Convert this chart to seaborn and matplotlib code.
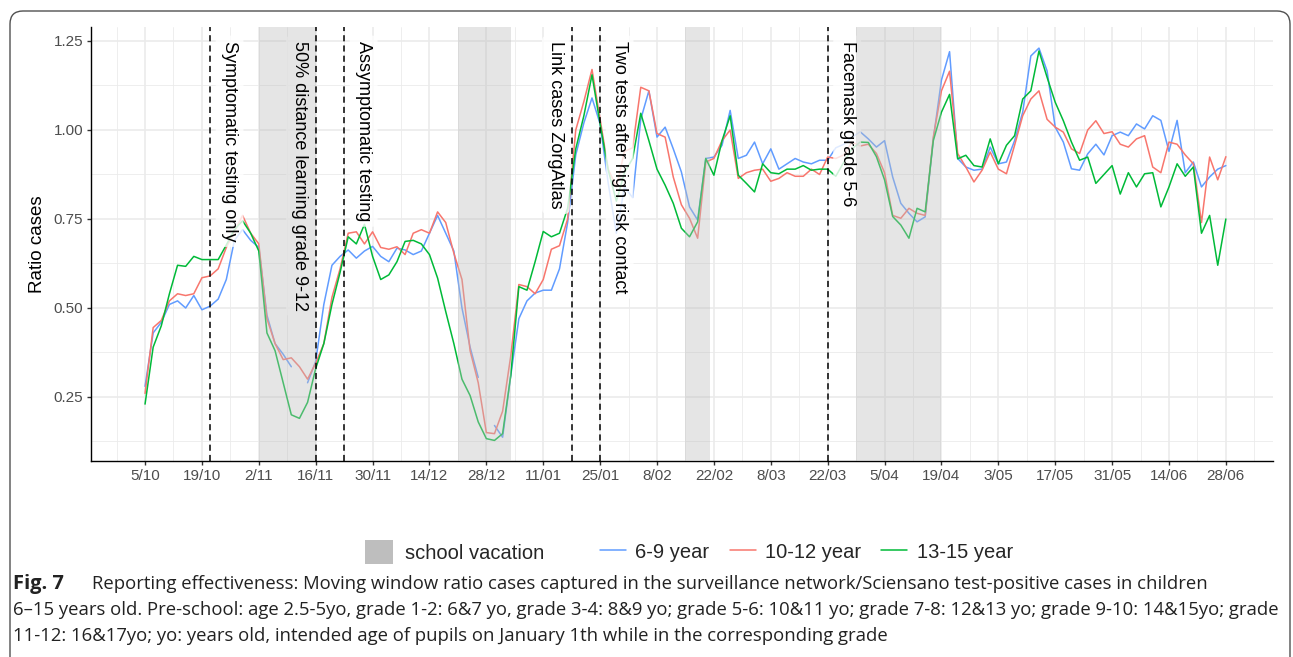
import numpy as np
import pandas as pd
import seaborn as sns
import matplotlib.pyplot as plt
import matplotlib.dates as mdates
from matplotlib.ticker import FixedLocator
from matplotlib.patches import Patch, FancyBboxPatch
from matplotlib.lines import Line2D

# moving window ratio, read every 2 days from 5/10/2020
start = pd.Timestamp('2020-10-05')
dates = pd.date_range(start, periods=134, freq='2D')
nan = np.nan

ratio_6_9 = [0.28, 0.43, 0.46, 0.51, 0.52, 0.50, 0.535, 0.495, 0.505, 0.525,
             0.58, 0.69, 0.72, 0.69, 0.67, 0.48, 0.40, 0.37, 0.335, nan,
             0.29, 0.35, 0.51, 0.62, 0.645, 0.663, 0.64, 0.66, 0.673, 0.645,
             0.63, 0.668, 0.663, 0.65, 0.66, 0.71, 0.76, 0.71, 0.66, 0.50,
             0.39, 0.305, nan, 0.17, 0.137, 0.31, 0.47, 0.52, 0.542, 0.55,
             0.55, 0.61, 0.74, 0.93, 1.02, 1.09, 1.017, 0.85, 0.71, 0.84,
             0.81, 1.03, 1.11, 0.98, 1.008, 0.947, 0.882, 0.784, 0.747, 0.92,
             0.924, 0.957, 1.055, 0.92, 0.929, 0.966, 0.905, 0.947, 0.89, 0.905,
             0.92, 0.91, 0.905, 0.915, 0.915, 0.95, 0.96, 0.98, 0.995, 0.975,
             0.952, 0.97, 0.868, 0.794, 0.766, 0.742, 0.756, 0.975, 1.14, 1.22,
             0.92, 0.896, 0.887, 0.89, 0.952, 0.905, 0.91, 0.97, 1.05, 1.208,
             1.23, 1.166, 1.008, 0.966, 0.891, 0.887, 0.933, 0.96, 0.93, 0.984,
             0.994, 0.984, 1.017, 1.003, 1.04, 1.027, 0.94, 1.027, 0.88, 0.91,
             0.84, 0.868, 0.89, 0.90]

ratio_10_12 = [0.26, 0.445, 0.465, 0.52, 0.54, 0.535, 0.54, 0.585, 0.59, 0.61,
               0.67, 0.715, 0.76, 0.71, 0.68, 0.47, 0.40, 0.355, 0.36, 0.335,
               0.30, 0.345, 0.40, 0.53, 0.61, 0.71, 0.714, 0.68, 0.714, 0.67,
               0.665, 0.672, 0.65, 0.71, 0.72, 0.71, 0.77, 0.74, 0.654, 0.58,
               0.38, 0.29, 0.15, 0.147, 0.21, 0.365, 0.566, 0.56, 0.54, 0.58,
               0.665, 0.675, 0.75, 1.00, 1.08, 1.17, 1.03, 0.89, 0.84, 0.94,
               0.95, 1.12, 1.11, 0.99, 0.98, 0.868, 0.79, 0.752, 0.696, 0.91,
               0.92, 0.97, 1.00, 0.864, 0.88, 0.887, 0.89, 0.856, 0.864, 0.88,
               0.87, 0.87, 0.89, 0.875, 0.924, 0.92, 0.93, 0.966, 0.955, 0.96,
               0.934, 0.88, 0.76, 0.752, 0.78, 0.766, 0.76, 0.98, 1.11, 1.165,
               0.934, 0.896, 0.854, 0.887, 0.938, 0.89, 0.877, 0.957, 1.04, 1.087,
               1.11, 1.03, 1.008, 0.994, 0.947, 0.934, 1.0, 1.026, 0.99, 0.995,
               0.96, 0.952, 0.975, 0.984, 0.896, 0.88, 0.966, 0.96, 0.93, 0.905,
               0.74, 0.924, 0.86, 0.925]

ratio_13_15 = [0.23, 0.39, 0.45, 0.54, 0.62, 0.617, 0.645, 0.636, 0.636, 0.636,
               0.677, 0.72, 0.745, 0.71, 0.66, 0.43, 0.38, 0.29, 0.20, 0.19,
               0.235, 0.33, 0.40, 0.51, 0.60, 0.70, 0.68, 0.735, 0.645, 0.58,
               0.593, 0.63, 0.687, 0.69, 0.68, 0.65, 0.584, 0.49, 0.40, 0.30,
               0.254, 0.18, 0.133, 0.128, 0.147, 0.31, 0.56, 0.55, 0.63, 0.715,
               0.70, 0.71, 0.78, 0.947, 1.04, 1.155, 1.017, 0.887, 0.80, 0.88,
               0.92, 1.047, 0.97, 0.89, 0.845, 0.794, 0.724, 0.70, 0.742, 0.92,
               0.873, 0.97, 1.04, 0.873, 0.85, 0.826, 0.905, 0.88, 0.877, 0.89,
               0.89, 0.90, 0.887, 0.89, 0.89, 0.87, 0.91, 0.947, 0.966, 0.965,
               0.925, 0.86, 0.757, 0.733, 0.696, 0.78, 0.77, 0.97, 1.05, 1.10,
               0.919, 0.929, 0.90, 0.896, 0.975, 0.905, 0.957, 0.984, 1.087, 1.11,
               1.222, 1.148, 1.078, 1.026, 0.966, 0.915, 0.924, 0.85, 0.875, 0.9,
               0.82, 0.88, 0.84, 0.877, 0.88, 0.784, 0.84, 0.905, 0.87, 0.896,
               0.71, 0.76, 0.62, 0.75]

groups = ['6-9 year', '10-12 year', '13-15 year']
colors = ['#619CFF', '#F8766D', '#00BA38']

vacation_start = ['2020-11-02', '2020-12-21', '2021-02-15', '2021-03-29']
vacation_end = ['2020-11-16', '2021-01-03', '2021-02-21', '2021-04-19']

event_dates = ['2020-10-21', '2020-11-16', '2020-11-23', '2021-01-18', '2021-01-25', '2021-03-22']
event_labels = ['Symptomatic testing only', '50% distance learning grade 9-12',
                'Assymptomatic testing', 'Link cases ZorgAtlas',
                'Two tests after high risk contact', 'Facemask grade 5-6']
event_side = [1, -1, 1, -1, 1, 1]

tick_dates = pd.date_range('2020-10-05', '2021-06-28', freq='14D')
tick_labels = ['5/10', '19/10', '2/11', '16/11', '30/11', '14/12', '28/12', '11/01',
               '25/01', '8/02', '22/02', '8/03', '22/03', '5/04', '19/04', '3/05',
               '17/05', '31/05', '14/06', '28/06']

caption_1 = 'Reporting effectiveness: Moving window ratio cases captured in the surveillance network/Sciensano test-positive cases in children'
caption_2 = '6\u201315 years old. Pre-school: age 2.5-5yo, grade 1-2: 6&7 yo, grade 3-4: 8&9 yo; grade 5-6: 10&11 yo; grade 7-8: 12&13 yo; grade 9-10: 14&15yo; grade'
caption_3 = '11-12: 16&17yo; yo: years old, intended age of pupils on January 1th while in the corresponding grade'

# long table, one unit per unbroken stretch so gaps stay gaps
frames = []
for name, vals in zip(groups, [ratio_6_9, ratio_10_12, ratio_13_15]):
    v = np.array(vals, dtype=float)
    seg = np.cumsum(np.isnan(v))
    frames.append(pd.DataFrame({'date': dates, 'ratio': v, 'group': name, 'seg': seg}))
df = pd.concat(frames).dropna()
df['unit'] = df['group'] + '_' + df['seg'].astype(str)

sns.set_theme(style='white')
plt.rcParams['font.family'] = ['Liberation Sans', 'DejaVu Sans']

W, H = 1293, 657
fig = plt.figure(figsize=(W / 100, H / 100), dpi=100)
ax = fig.add_axes([91 / W, 1 - 461 / H, (1273 - 91) / W, (461 - 27) / H])

sns.lineplot(data=df, x='date', y='ratio', hue='group', units='unit', estimator=None,
             hue_order=groups, palette=dict(zip(groups, colors)), lw=1.1,
             legend=False, ax=ax, zorder=2)

for s, e in zip(vacation_start, vacation_end):
    ax.axvspan(mdates.date2num(pd.Timestamp(s)), mdates.date2num(pd.Timestamp(e)),
               color='#BEBEBE', alpha=0.4, lw=0, zorder=3)

for d, lab, side in zip(event_dates, event_labels, event_side):
    xd = mdates.date2num(pd.Timestamp(d))
    ax.axvline(xd, color='black', ls=(0, (4, 2.7)), lw=1.1, zorder=4)
    off = 4.8 if side > 0 else -3.9
    # label box sits under the vacation shading, text on top of everything
    ax.text(xd + off, 1.25, lab, rotation=-90, ha='center', va='top', fontsize=13,
            color='none', zorder=2.5,
            bbox=dict(boxstyle='round,pad=0.3', fc='white', ec='none', alpha=0.8))
    ax.text(xd + off, 1.25, lab, rotation=-90, ha='center', va='top', fontsize=13,
            color='black', zorder=5)

x0 = mdates.date2num(start)
ax.set_xlim(x0 - 13.3, x0 + 277.6)
ax.set_ylim(0.0702, 1.2893)

ax.set_xticks(mdates.date2num(tick_dates))
ax.set_xticklabels(tick_labels)
ax.xaxis.set_minor_locator(FixedLocator(mdates.date2num(pd.date_range('2020-09-28', '2021-07-05', freq='14D'))))
ax.set_yticks([0.25, 0.5, 0.75, 1.0, 1.25])
ax.set_yticklabels(['0.25', '0.50', '0.75', '1.00', '1.25'])
ax.yaxis.set_minor_locator(FixedLocator([0.125, 0.375, 0.625, 0.875, 1.125]))

ax.grid(True, which='major', color='#EBEBEB', lw=1.2, zorder=0)
ax.grid(True, which='minor', color='#EBEBEB', lw=0.6, zorder=0)
ax.set_axisbelow(True)
for sp in ['top', 'right']:
    ax.spines[sp].set_visible(False)
for sp in ['left', 'bottom']:
    ax.spines[sp].set_color('black')
    ax.spines[sp].set_linewidth(1.0)
ax.tick_params(which='major', length=3, width=1.0, color='#333333', labelcolor='#4D4D4D',
               labelsize=11, pad=2.5, bottom=True, left=True)
ax.tick_params(which='minor', length=0)

ax.set_xlabel('')
ax.set_ylabel('Ratio cases', fontsize=13.5, color='black')
ax.yaxis.set_label_coords(-0.038, 0.5)

# legends: fill key and colour key side by side
fig.legend(handles=[Patch(facecolor='#BEBEBE', edgecolor='none')], labels=['school vacation'],
           loc='center', bbox_to_anchor=(454.5 / W, 1 - 552 / H), frameon=False, fontsize=14.5,
           handlelength=1.4, handleheight=1.4, handletextpad=0.6, borderpad=0, borderaxespad=0)
fig.legend(handles=[Line2D([], [], color=c, lw=1.1) for c in colors], labels=groups,
           loc='center', bbox_to_anchor=(806.5 / W, 1 - 552 / H), ncol=3, frameon=False,
           fontsize=14.5, handlelength=1.3, handletextpad=0.45, columnspacing=1.0,
           borderpad=0, borderaxespad=0)

# caption
cap = dict(family=['Open Sans', 'DejaVu Sans'], color='#222222', va='baseline')
fig.text(13 / W, 1 - 589 / H, 'Fig. 7', fontweight='bold', fontsize=14.5, **cap)
fig.text(92 / W, 1 - 589 / H, caption_1, fontsize=13.3, **cap)
fig.text(13 / W, 1 - 615 / H, caption_2, fontsize=13.3, **cap)
fig.text(13 / W, 1 - 641 / H, caption_3, fontsize=13.3, **cap)

# rounded frame around the figure panel
frame = FancyBboxPatch((0.10, -0.5), 12.80, 6.96, boxstyle='round,pad=0,rounding_size=0.13',
                       transform=fig.dpi_scale_trans, fc='none', ec='#505050', lw=1.0)
fig.add_artist(frame)

fig.savefig('out.png', dpi=100)
